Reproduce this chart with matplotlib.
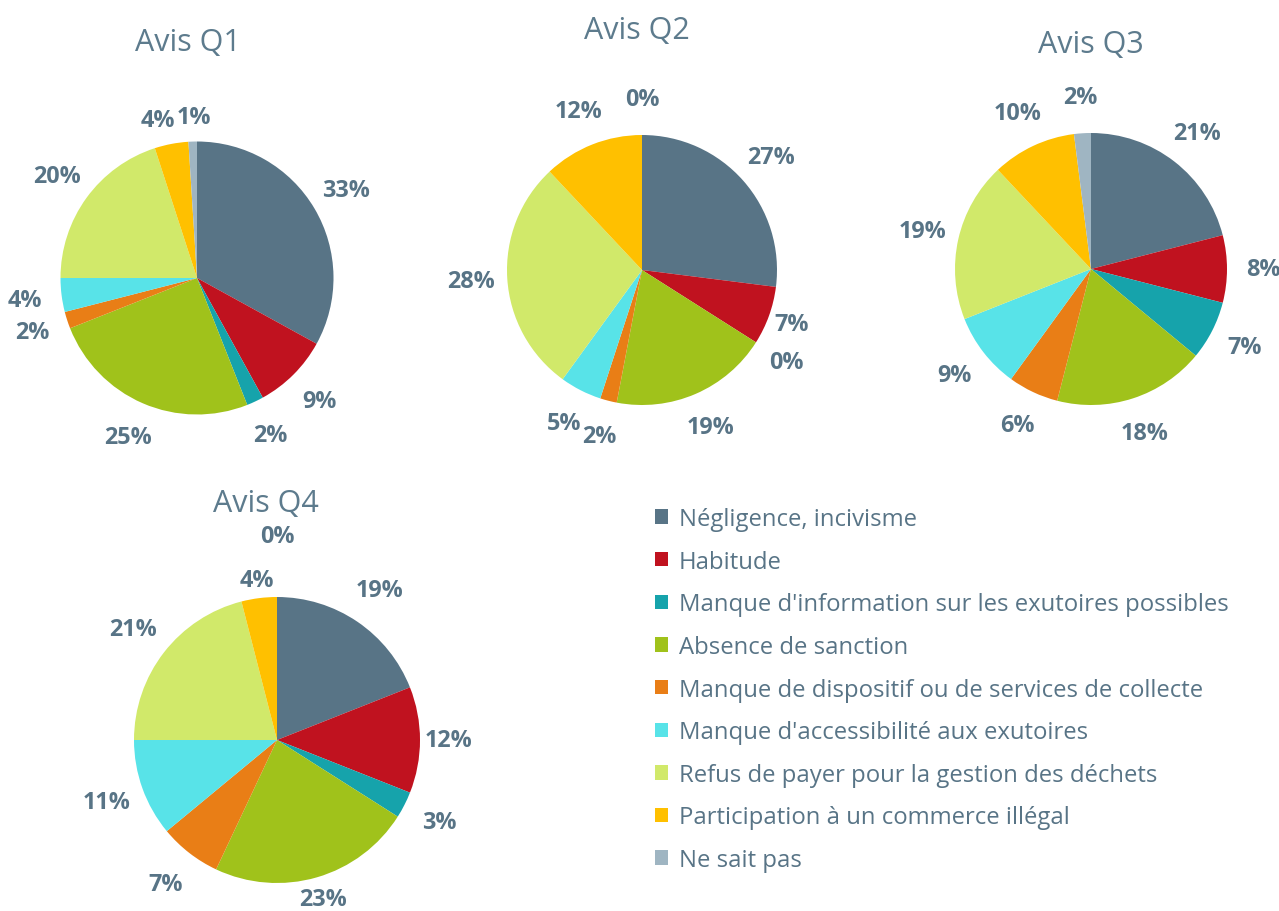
import matplotlib.pyplot as plt

W, H = 1279, 912

categories = [
    'Négligence, incivisme',
    'Habitude',
    "Manque d'information sur les exutoires possibles",
    'Absence de sanction',
    'Manque de dispositif ou de services de collecte',
    "Manque d'accessibilité aux exutoires",
    'Refus de payer pour la gestion des déchets',
    'Participation à un commerce illégal',
    'Ne sait pas',
]
colors = ['#587486', '#C0121F', '#16A3AB', '#A0C21B', '#E97E16',
          '#58E3E8', '#D1E96A', '#FFC000', '#9FB5C2']

avis_q1 = [33, 9, 2, 25, 2, 4, 20, 4, 1]
avis_q2 = [27, 7, 0, 19, 2, 5, 28, 12, 0]
avis_q3 = [21, 8, 7, 18, 6, 9, 19, 10, 2]
avis_q4 = [19, 12, 3, 23, 7, 11, 21, 4, 0]
titles = ['Avis Q1', 'Avis Q2', 'Avis Q3', 'Avis Q4']

text_color = '#587486'
title_color = '#5D7B8D'

plt.rcParams['font.family'] = ['Open Sans', 'DejaVu Sans']

fig = plt.figure(figsize=(12.79, 9.12), dpi=100)


def add_pie(cx, cy, r, values, title, tx, ty, label_dist=None, label_dx=None):
    # place axes so the pie (radius 1, limits +-1.25) lands at (cx, cy) in pixels
    ax = fig.add_axes([(cx - 1.25 * r) / W, (H - cy - 1.25 * r) / H,
                       2.5 * r / W, 2.5 * r / H])
    wedges, texts, autotexts = ax.pie(
        values, colors=colors, startangle=90, counterclock=False,
        autopct=lambda p: f'{p:.0f}%', pctdistance=1.27,
        textprops=dict(color=text_color, fontsize=16.8, fontweight='bold'))
    if label_dist:
        for i, d in label_dist.items():
            x, y = autotexts[i].get_position()
            autotexts[i].set_position((x * d / 1.27, y * d / 1.27))
    if label_dx:
        # small sideways nudge (in pixels) for crowded labels
        for i, dx in label_dx.items():
            x, y = autotexts[i].get_position()
            autotexts[i].set_position((x + dx / r, y))
    fig.text(tx / W, 1 - ty / H, title, ha='center', va='baseline',
             fontsize=22, color=title_color)
    return wedges


wedges = add_pie(197, 279, 136.5, avis_q1, titles[0], 188, 51,
                 {7: 1.18, 8: 1.18}, {7: -9, 8: 2})
add_pie(642, 271, 135, avis_q2, titles[1], 637, 39, {1: 1.18})
add_pie(1091, 270, 136, avis_q3, titles[2], 1091, 53)
add_pie(277, 741, 143, avis_q4, titles[3], 266, 512,
        {1: 1.2, 3: 1.16, 7: 1.13, 8: 1.43})

leg = fig.legend(wedges, categories, loc='upper left',
                 bbox_to_anchor=(655 / W, 1 - 508 / H), frameon=False,
                 fontsize=17.2, labelcolor=text_color,
                 handlelength=0.55, handleheight=0.55, handletextpad=0.45,
                 labelspacing=0.78, borderpad=0, borderaxespad=0)

fig.savefig('out.png', dpi=100)
